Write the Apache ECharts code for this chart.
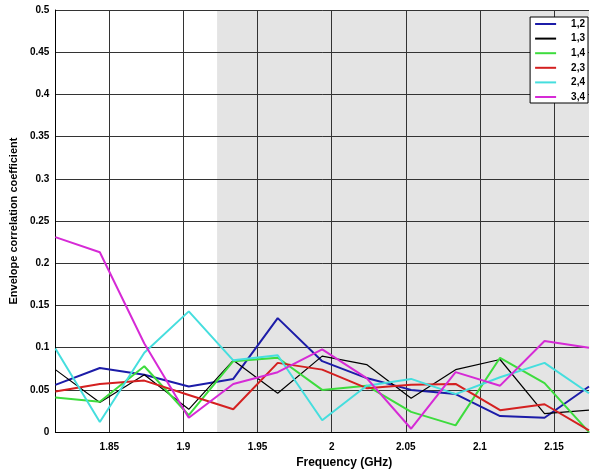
<!DOCTYPE html>
<html>
<head>
<meta charset="utf-8">
<script src="https://cdn.jsdelivr.net/npm/echarts@6/dist/echarts.min.js"></script>
<style>
html,body{margin:0;padding:0;background:#fff;}
#chart{width:592px;height:474px;}
</style>
</head>
<body>
<div id="chart"></div>
<script>
// Frequency points (GHz)
const freq = [1.8136, 1.8436, 1.8736, 1.9036, 1.9336, 1.9636, 1.9936, 2.0236, 2.0536, 2.0836, 2.1136, 2.1436, 2.1736];
const seriesNames = ['1,2', '1,3', '1,4', '2,3', '2,4', '3,4'];
const s12 = [0.056, 0.076, 0.068, 0.054, 0.063, 0.135, 0.084, 0.064, 0.050, 0.045, 0.019, 0.017, 0.054];
const s13 = [0.074, 0.035, 0.068, 0.027, 0.085, 0.046, 0.090, 0.080, 0.040, 0.074, 0.086, 0.022, 0.026];
const s14 = [0.041, 0.036, 0.078, 0.020, 0.084, 0.088, 0.050, 0.055, 0.024, 0.008, 0.088, 0.058, 0.000];
const s23 = [0.048, 0.057, 0.061, 0.044, 0.027, 0.082, 0.074, 0.052, 0.056, 0.057, 0.026, 0.033, 0.002];
const s24 = [0.099, 0.012, 0.094, 0.143, 0.085, 0.091, 0.014, 0.055, 0.063, 0.045, 0.065, 0.082, 0.046];
const s34 = [0.231, 0.213, 0.105, 0.017, 0.057, 0.071, 0.098, 0.064, 0.004, 0.071, 0.055, 0.108, 0.100];
const xMin = 1.8136, xMax = 2.1736;
const shadeStart = 1.9227;

const values = [s12, s13, s14, s23, s24, s34];
const colors = ['#1c1ca8', '#000000', '#3ddc3d', '#d42020', '#45dede', '#d62ad6'];
const widths = [2, 1.2, 2, 2, 2, 2];
const FONT = '"Liberation Sans", Arial, sans-serif';

const lineSeries = seriesNames.map((n, i) => ({
  name: n,
  type: 'line',
  symbol: 'none',
  data: freq.map((f, j) => [f, values[i][j]]),
  lineStyle: { color: colors[i], width: widths[i] },
  itemStyle: { color: colors[i] },
  emphasis: { disabled: true },
  z: 3
}));

const bgSeries = {
  name: 'bg',
  type: 'line',
  data: [],
  z: -1,
  silent: true,
  markArea: {
    silent: true,
    z: -1,
    zlevel: 0,
    itemStyle: { color: '#e4e4e4' },
    data: [[{ xAxis: shadeStart }, { xAxis: xMax }]]
  }
};

const chart = echarts.init(document.getElementById('chart'), null, { renderer: 'canvas' });
chart.setOption({
  animation: false,
  backgroundColor: '#ffffff',
  grid: { left: 53, top: 10, right: 0, bottom: 39, containLabel: false },
  legend: {
    data: seriesNames,
    orient: 'vertical',
    right: 4,
    top: 17,
    icon: 'rect',
    itemWidth: 21,
    itemHeight: 2,
    itemGap: 2.6,
    padding: [1, 3, 0, 5],
    backgroundColor: '#ffffff',
    borderColor: '#000000',
    borderWidth: 1,
    borderRadius: 0,
    selectedMode: false,
    textStyle: { fontFamily: FONT, fontSize: 10, fontWeight: 'bold', color: '#000', padding: [0, 0, 0, 10], lineHeight: 12 }
  },
  xAxis: {
    type: 'value',
    min: xMin,
    max: xMax,
    splitNumber: 7,
    name: 'Frequency (GHz)',
    nameLocation: 'middle',
    nameGap: 24,
    nameTextStyle: { fontFamily: FONT, fontSize: 12, fontWeight: 'bold', color: '#000', padding: [0, 0, 0, 44] },
    axisLine: { show: true, onZero: false, lineStyle: { color: '#000', width: 1 } },
    axisTick: { show: false },
    axisLabel: {
      fontFamily: FONT, fontSize: 10, fontWeight: 'bold', color: '#000', margin: 10,
      formatter: v => (Math.abs(v * 20 - Math.round(v * 20)) < 1e-6 ? String(+v.toFixed(2)) : '')
    },
    splitLine: { show: true, showMaxLine: false, lineStyle: { color: '#333', width: 1 } }
  },
  yAxis: {
    type: 'value',
    min: 0,
    max: 0.5,
    interval: 0.05,
    name: 'Envelope correlation coefficient',
    nameLocation: 'middle',
    nameGap: 33,
    nameTextStyle: { fontFamily: FONT, fontSize: 11, fontWeight: 'bold', color: '#000' },
    axisLine: { show: true, lineStyle: { color: '#000', width: 1 } },
    axisTick: { show: false },
    axisLabel: { fontFamily: FONT, fontSize: 10, fontWeight: 'bold', color: '#000', margin: 6 },
    splitLine: { show: true, lineStyle: { color: '#333', width: 1 } }
  },
  series: [bgSeries].concat(lineSeries)
});
</script>
</body>
</html>
